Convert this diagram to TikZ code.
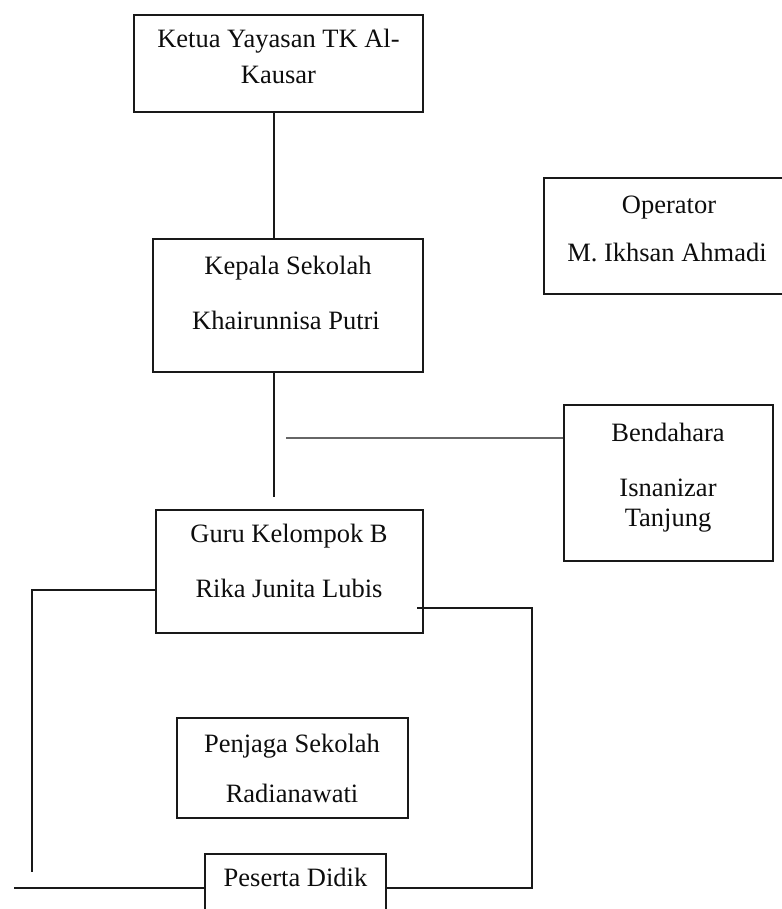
\documentclass[tikz,border=0pt]{standalone}
\usepackage{fontspec}
\setmainfont{Liberation Serif}
\usetikzlibrary{calc}
\tikzset{
  box/.style={draw=black!90, line width=1.4pt, inner sep=0pt, fill=none},
  lbl/.style={anchor=base, inner sep=0pt, font=\fontsize{26.5}{31}\selectfont, text=black!95},
  conn/.style={draw=black!90, line width=1.4pt},
  grayconn/.style={draw=black!60, line width=1.6pt}
}
\begin{document}
\begin{tikzpicture}[x=1pt,y=-1pt]
\useasboundingbox (0,0) rectangle (781,909);
% boxes
\node[box, minimum width=289pt, minimum height=97pt] (ketua) at (278.5,63.5) {};
\node[box, minimum width=270pt, minimum height=133pt] (kepala) at (288,305.5) {};
\node[box, minimum width=267pt, minimum height=123pt] (guru) at (289.5,571.5) {};
\node[box, minimum width=246pt, minimum height=116pt] (operator) at (667,236) {};
\node[box, minimum width=209pt, minimum height=156pt] (bendahara) at (668.5,483) {};
\node[box, minimum width=231pt, minimum height=100pt] (penjaga) at (292.5,768) {};
\node[box, minimum width=181pt, minimum height=86pt] (peserta) at (295.5,897) {};
% labels
\node[lbl] (t1) at (278.5,48) {Ketua Yayasan TK Al-};
\node[lbl] (t2) at (278.5,84) {Kausar};
\node[lbl] (t3) at (288,274) {Kepala Sekolah};
\node[lbl] (t4) at (286,329) {Khairunnisa Putri};
\node[lbl] (t5) at (289,542) {Guru Kelompok B};
\node[lbl] (t6) at (289,597) {Rika Junita Lubis};
\node[lbl] (t7) at (292,752) {Penjaga Sekolah};
\node[lbl] (t8) at (292,802) {Radianawati};
\node[lbl] (t9) at (669,214) {Operator};
\node[lbl] (t10) at (667,261) {M. Ikhsan Ahmadi};
\node[lbl] (t11) at (668,441) {Bendahara};
\node[lbl] (t12) at (668,496) {Isnanizar};
\node[lbl] (t13) at (668,526) {Tanjung};
\node[lbl] (t14) at (295.5,886) {Peserta Didik};
% free ends
\coordinate (kb) at (274,497);
\coordinate (bl) at (286,438);
\coordinate (le) at (32,872);
\coordinate (rs) at (417,608);
\coordinate (rc) at (532,608);
\coordinate (bs) at (14,888);
% connectors
\draw[conn] ([xshift=-4.5pt]ketua.south) -- ([xshift=-4.5pt]ketua.south |- kepala.north);
\draw[conn] (kepala.south -| kb) -- (kb);
\draw[grayconn] (bl) -- (bl -| bendahara.west);
\draw[conn] (guru.west |- 0,590) -| (le);
\draw[conn] (rs) -- (rc) |- (peserta.east |- 0,888);
\draw[conn] (bs) -- (peserta.west |- 0,888);
\end{tikzpicture}
\end{document}
